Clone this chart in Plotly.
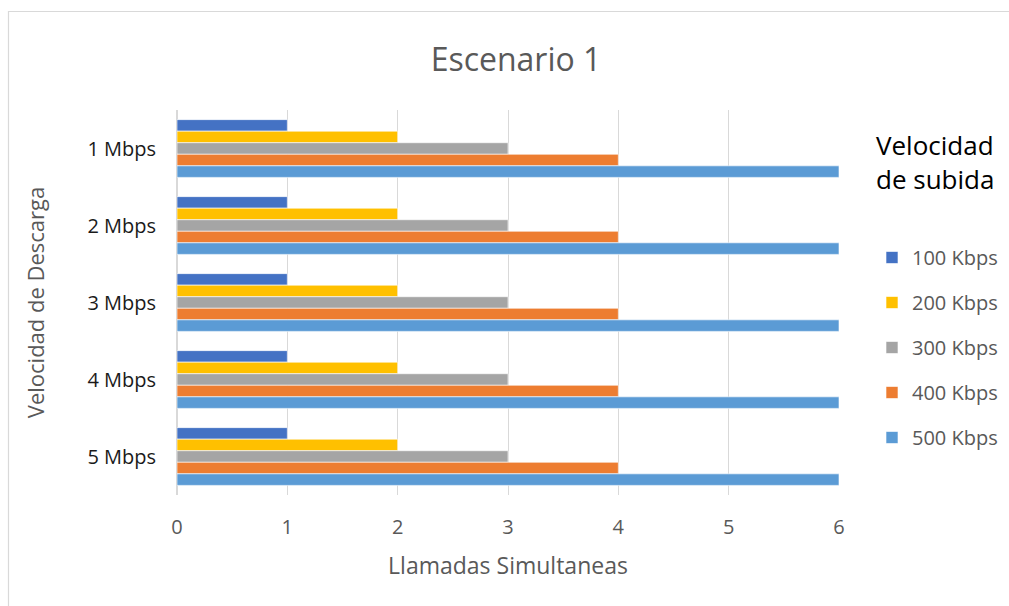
import plotly.graph_objects as go

categories = ["1 Mbps", "2 Mbps", "3 Mbps", "4 Mbps", "5 Mbps"]
series_names = ["100 Kbps", "200 Kbps", "300 Kbps", "400 Kbps", "500 Kbps"]
values_100 = [1, 1, 1, 1, 1]
values_200 = [2, 2, 2, 2, 2]
values_300 = [3, 3, 3, 3, 3]
values_400 = [4, 4, 4, 4, 4]
values_500 = [6, 6, 6, 6, 6]
series_values = [values_100, values_200, values_300, values_400, values_500]
colors = ["#4472C4", "#FFC000", "#A5A5A5", "#ED7D31", "#5B9BD5"]
x_ticks = [0, 1, 2, 3, 4, 5, 6]

FONT = "Open Sans, Noto Sans, sans-serif"
W, H = 1009, 606
L, R, T, B = 177, 170, 110, 111
pw, ph = W - L - R, H - T - B

fig = go.Figure()
for i, (name, vals) in enumerate(zip(series_names, series_values)):
    fig.add_trace(go.Bar(
        y=categories, x=vals, name=name, orientation="h",
        marker=dict(color=colors[i], line=dict(color="rgba(255,255,255,0.6)", width=1)),
        legendgroup=name,
    ))

def px_x(p):
    return (p - L) / pw

def px_y(p):
    return (H - B - p) / ph

fig.update_layout(
    width=W, height=H,
    margin=dict(l=L, r=R, t=T, b=B, autoexpand=False),
    paper_bgcolor="white", plot_bgcolor="white",
    barmode="group", bargap=0.25, bargroupgap=0,
    font=dict(family=FONT, color="#595959", size=20),
    title=dict(text="Escenario 1", x=px_x(516), xref="paper", xanchor="center",
               y=1 - 60 / H, yanchor="middle",
               font=dict(size=32, color="#595959", family=FONT)),
    xaxis=dict(range=[0, 6], tickvals=x_ticks, showgrid=True, gridcolor="#D9D9D9",
               gridwidth=1, zeroline=True, zerolinecolor="#D9D9D9", showline=False,
               tickfont=dict(size=20, color="#595959"), ticks="", ticklen=0,
               ticklabelstandoff=18, automargin=False,
               title=dict(text="Llamadas Simultaneas", font=dict(size=23, color="#595959"), standoff=18)),
    yaxis=dict(autorange="reversed", showgrid=False, showline=False, ticks="",
               tickfont=dict(size=20, color="#1a1a1a"), ticklabelstandoff=20, automargin=False,
               title=dict(text="Velocidad de Descarga", font=dict(size=22, color="#595959"), standoff=36)),
    legend=dict(x=px_x(872), xanchor="left", y=px_y(238), yanchor="top",
                font=dict(size=20, color="#595959", family=FONT),
                tracegroupgap=16, itemwidth=30, bgcolor="rgba(0,0,0,0)"),
    showlegend=True,
)

fig.add_annotation(text="Velocidad<br>de subida", xref="paper", yref="paper",
                   x=px_x(935), y=px_y(162), xanchor="center", yanchor="middle",
                   showarrow=False, align="left",
                   font=dict(size=26, color="#000000", family=FONT))

fig.add_shape(type="rect", xref="paper", yref="paper",
              x0=px_x(8.5), x1=px_x(1030), y0=px_y(630), y1=px_y(11.5),
              line=dict(color="#D9D9D9", width=1.2), fillcolor="rgba(0,0,0,0)", layer="below")

fig.write_html("out.html")
